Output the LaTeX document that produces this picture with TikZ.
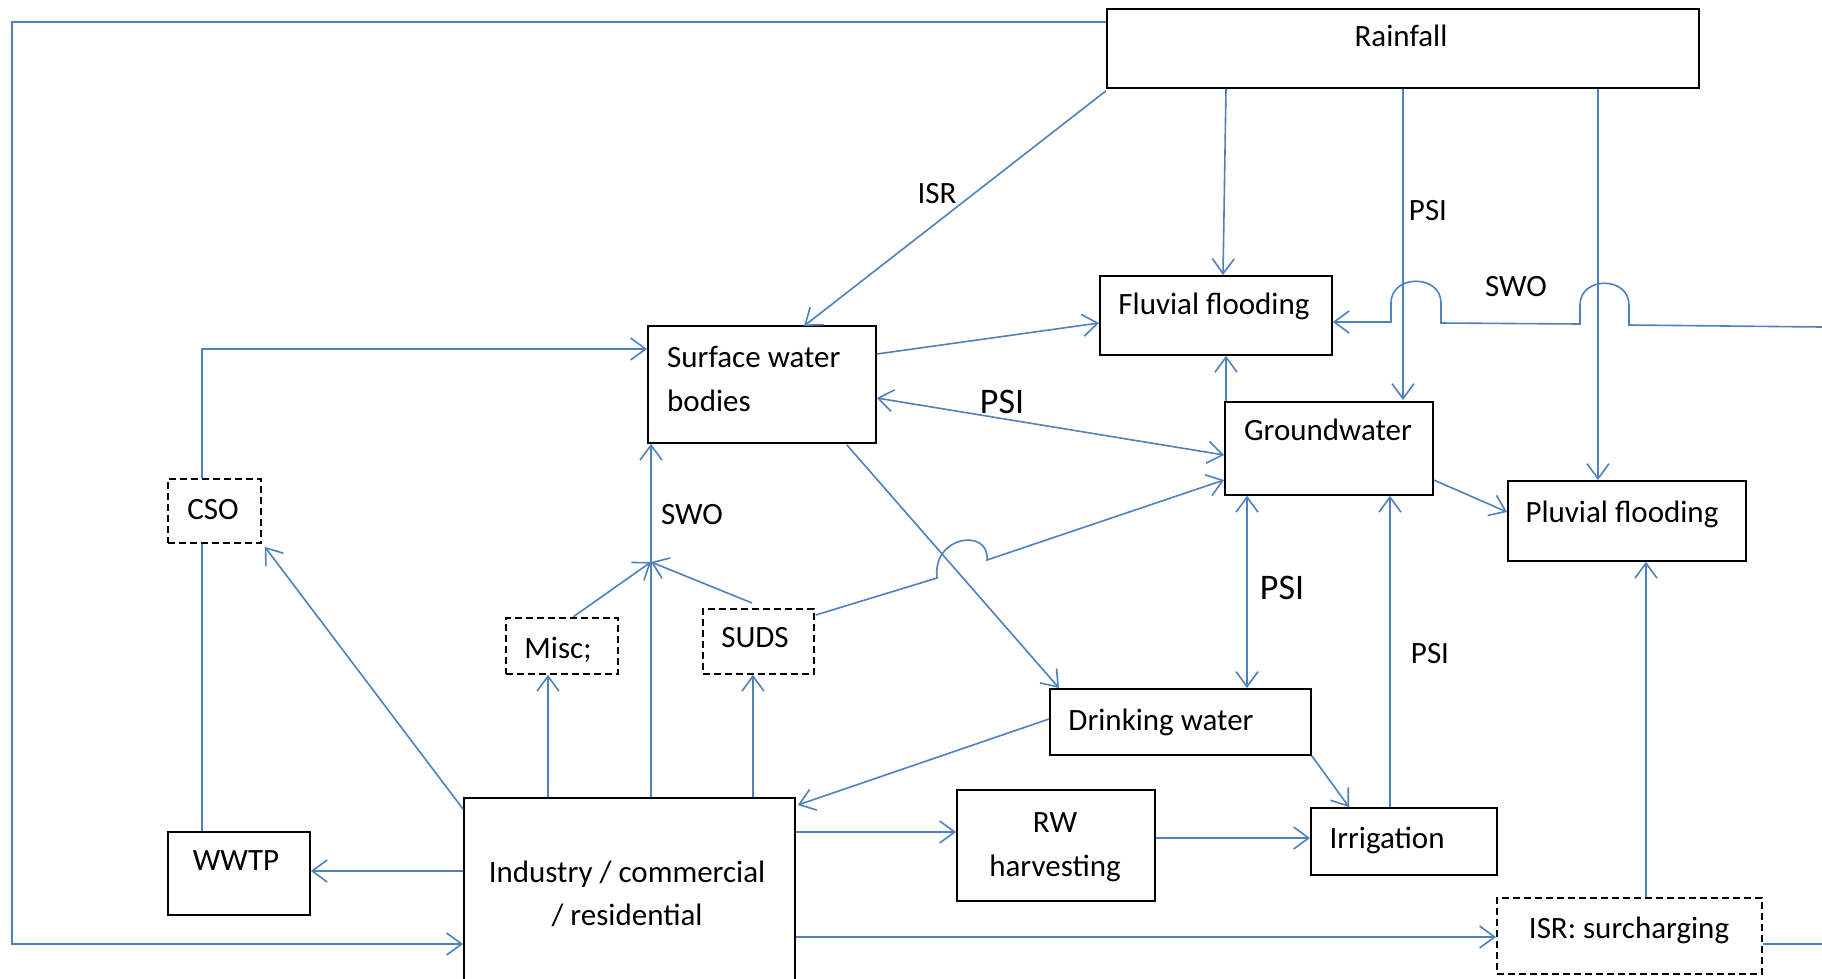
\documentclass[tikz,border=0pt]{standalone}
\usepackage{fontspec}
\setmainfont{Carlito}
\usetikzlibrary{arrows.meta,calc}
\definecolor{lineblue}{RGB}{79,129,189}
\begin{document}
\begin{tikzpicture}[x=1pt,y=-1pt,
  box/.style={draw=black, line width=1.8pt, inner sep=0pt, anchor=north west, fill=white},
  dbox/.style={box, dash pattern=on 7pt off 4pt},
  txt/.style={inner sep=0pt, text height=0.64em, text depth=0pt, yshift=-7pt, font=\fontsize{31}{37}\selectfont},
  bigtxt/.style={txt, font=\fontsize{36}{43}\selectfont},
  conn/.style={draw=lineblue, line width=1.6pt},
  arr/.style={conn, -{Straight Barb[length=15pt,width=22pt]}},
  darr/.style={conn, {Straight Barb[length=15pt,width=22pt]}-{Straight Barb[length=15pt,width=22pt]}},
]
\useasboundingbox (0,0) rectangle (1822,978);
\clip (0,0) rectangle (1822,978);
\fill[white] (0,0) rectangle (1822,978);

% boxes
\node[box, minimum width=592pt, minimum height=79pt] (rain) at (1106,8) {};
\node[box, minimum width=232pt, minimum height=79pt] (fluv) at (1099,275) {};
\node[box, minimum width=228pt, minimum height=117pt] (surf) at (647,325) {};
\node[box, minimum width=208pt, minimum height=93pt] (ground) at (1224,401) {};
\node[box, minimum width=238pt, minimum height=80pt] (pluv) at (1507,480) {};
\node[box, minimum width=261pt, minimum height=66pt] (drink) at (1049,688) {};
\node[box, minimum width=198pt, minimum height=111pt] (rw) at (956,789) {};
\node[box, minimum width=186pt, minimum height=67pt] (irr) at (1310,807) {};
\node[dbox, minimum width=265pt, minimum height=76pt] (isr) at (1496,897) {};
\node[box, minimum width=331pt, minimum height=220pt] (ind) at (463,797) {};
\node[box, minimum width=142pt, minimum height=83pt] (wwtp) at (167,831) {};
\node[dbox, minimum width=93pt, minimum height=64pt] (cso) at (167,478) {};
\node[dbox, minimum width=112pt, minimum height=56pt] (misc) at (505,617) {};
\node[dbox, minimum width=111pt, minimum height=65pt] (suds) at (702,608) {};

% texts
\node[txt] (train) at (1401,36) {Rainfall};
\node[txt] (tfluv) at (1214,304) {Fluvial flooding};
\node[txt, anchor=west] (tsurf1) at (667,357) {Surface water};
\node[txt, anchor=west] (tsurf2) at (667,401) {bodies};
\node[txt] (tground) at (1328,430) {Groundwater};
\node[txt] (tpluv) at (1622,512) {Pluvial flooding};
\node[txt] (tdrink) at (1161,720) {Drinking water};
\node[txt] (trw1) at (1055,822) {RW};
\node[txt] (trw2) at (1055,866) {harvesting};
\node[txt] (tirr) at (1387,838) {Irrigation};
\node[txt] (tisr) at (1629,928) {ISR: surcharging};
\node[txt] (tind1) at (627,872) {Industry / commercial};
\node[txt] (tind2) at (627,915) {/ residential};
\node[txt] (twwtp) at (236,860) {WWTP};
\node[txt] (tcso) at (213,509) {CSO};
\node[txt] (tmisc) at (558,648) {Misc;};
\node[txt] (tsuds) at (755,637) {SUDS};

% edge labels
\node[txt] (lisr) at (937,193) {ISR};
\node[txt] (lpsi1) at (1428,210) {PSI};
\node[txt] (lswo1) at (1516,286) {SWO};
\node[bigtxt] (lpsi2) at (1002,403) {PSI};
\node[txt] (lswo2) at (692,514) {SWO};
\node[bigtxt] (lpsi3) at (1282,589) {PSI};
\node[txt] (lpsi4) at (1430,653) {PSI};

% free ends
\coordinate (swoR) at (1822,327);
\coordinate (isrR) at (1822,944);
\coordinate (jn) at (651,562);

% connectors
\draw[arr] ($(rain.north west)+(0,14)$) -| (12,944) -- ($(ind.north west)+(0,147)$);
\draw[arr] ($(rain.south west)+(0,2)$) -- ($(surf.north west)+(157,1)$);
\draw[arr] ($(rain.south west)+(120,0)$) -- ($(fluv.north west)+(124,0)$);
\draw[arr] ($(rain.south west)+(297,0)$) -- ($(ground.north west)+(179,-1)$);
\draw[arr] ($(rain.south west)+(492,0)$) -- ($(pluv.north west)+(91,0)$);
\draw[arr] (swoR) -- (1629,325) -- (1629,305) .. controls (1629,276) and (1580,276) .. (1580,305) -- (1580,324)
  -- (1441,323) -- (1441,303) .. controls (1441,274) and (1391,274) .. (1391,303) -- (1391,322) -- ($(fluv.north east)+(0,47)$);
\draw[arr] ($(surf.north east)+(0,29)$) -- ($(fluv.north west)+(0,48)$);
\draw[darr] ($(surf.north east)+(0,73)$) -- ($(ground.north west)+(0,54)$);
\draw[arr] ($(ground.north west)+(2,0)$) -- ($(fluv.south west)+(127,0)$);
\draw[arr] ($(suds.north east)+(1,7)$) -- (937,578) .. controls (932,535) and (990,528) .. (987,560) -- ($(ground.north west)+(0,79)$);
\draw[arr] ($(surf.south east)+(-30,1)$) -- ($(drink.north west)+(10,0)$);
\draw[darr] ($(ground.south west)+(23,0)$) -- ($(drink.north west)+(198,0)$);
\draw[arr] ($(irr.north west)+(80,0)$) -- ($(ground.south west)+(166,0)$);
\draw[arr] ($(ground.north east)+(0,79)$) -- ($(pluv.north west)+(0,32)$);
\draw[arr] ($(drink.north west)+(0,31)$) -- ($(ind.north east)+(2,8)$);
\draw[arr] (drink.south east) -- ($(irr.north west)+(39,0)$);
\draw[arr] ($(ind.north east)+(0,35)$) -- ($(rw.north west)+(0,43)$);
\draw[arr] ($(rw.north east)+(0,49)$) -- ($(irr.north west)+(0,31)$);
\draw[arr] ($(ind.north east)+(0,140)$) -- ($(isr.north west)+(0,40)$);
\draw[arr] ($(isr.north west)+(150,0)$) -- ($(pluv.south west)+(139,0)$);
\draw[conn] ($(isr.north east)+(0,47)$) -- (isrR);
\draw[arr] ($(ind.north west)+(85,0)$) -- ($(misc.south west)+(43,0)$);
\draw[arr] ($(ind.north west)+(290,0)$) -- ($(suds.south west)+(51,0)$);
\draw[arr] ($(ind.north west)+(188,0)$) -- ($(surf.south west)+(4,0)$);
\draw[arr] ($(misc.north west)+(68,0)$) -- (jn);
\draw[arr] ($(suds.north west)+(50,-5)$) -- (jn);
\draw[arr] ($(ind.north west)+(0,12)$) -- ($(cso.south east)+(3,3)$);
\draw[arr] ($(ind.north west)+(0,74)$) -- ($(wwtp.north east)+(0,40)$);
\draw[conn] ($(wwtp.north west)+(35,0)$) -- ($(cso.south west)+(35,0)$);
\draw[arr] ($(cso.north west)+(35,0)$) |- ($(surf.north west)+(0,24)$);
\end{tikzpicture}
\end{document}
